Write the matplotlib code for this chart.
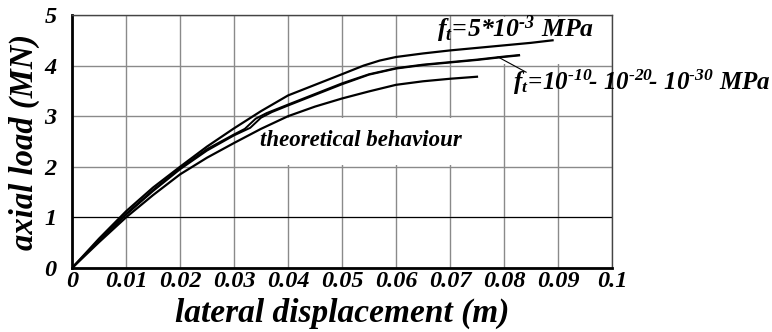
import matplotlib.pyplot as plt
from matplotlib.patches import Rectangle

plt.rcParams['font.family'] = 'Liberation Serif'
plt.rcParams['font.weight'] = 'bold'
plt.rcParams['font.style'] = 'italic'
plt.rcParams['axes.labelweight'] = 'bold'
plt.rcParams['mathtext.fontset'] = 'custom'
plt.rcParams['mathtext.rm'] = 'Liberation Serif:bold:italic'
plt.rcParams['mathtext.it'] = 'Liberation Serif:bold:italic'
plt.rcParams['mathtext.bf'] = 'Liberation Serif:bold:italic'
plt.rcParams['mathtext.default'] = 'it'

# theoretical behaviour
theo_x = [0, 0.005, 0.01, 0.015, 0.02, 0.025, 0.03, 0.035, 0.04, 0.045, 0.05, 0.055, 0.06, 0.065, 0.07, 0.075]
theo_y = [0, 0.51, 1.00, 1.44, 1.85, 2.18, 2.47, 2.75, 3.00, 3.19, 3.35, 3.49, 3.62, 3.69, 3.74, 3.78]

# f_t = 5e-3 MPa
ft5_x = [0, 0.005, 0.01, 0.015, 0.02, 0.025, 0.03, 0.035, 0.04, 0.045, 0.05, 0.054, 0.057, 0.06,
         0.065, 0.07, 0.075, 0.08, 0.085, 0.089]
ft5_y = [0, 0.58, 1.12, 1.59, 2.00, 2.40, 2.76, 3.10, 3.41, 3.62, 3.83, 4.00, 4.10, 4.17,
         4.24, 4.30, 4.35, 4.40, 4.45, 4.50]

# f_t = 1e-10 / 1e-20 / 1e-30 MPa (bundle of near identical curves)
fta_x = [0, 0.005, 0.01, 0.015, 0.02, 0.025, 0.03, 0.032, 0.034, 0.036, 0.04, 0.045, 0.05, 0.055,
         0.06, 0.065, 0.07, 0.075, 0.08, 0.0828]
fta_y = [0, 0.55, 1.07, 1.54, 1.97, 2.35, 2.64, 2.75, 2.95, 3.06, 3.23, 3.44, 3.65, 3.83,
         3.95, 4.02, 4.07, 4.12, 4.18, 4.21]
ftb_x = [0, 0.005, 0.01, 0.015, 0.02, 0.025, 0.03, 0.033, 0.035, 0.037, 0.04, 0.045, 0.05, 0.055,
         0.06, 0.065, 0.07, 0.075, 0.08, 0.0828]
ftb_y = [0, 0.54, 1.05, 1.52, 1.95, 2.32, 2.62, 2.77, 2.97, 3.08, 3.21, 3.42, 3.63, 3.82,
         3.94, 4.01, 4.06, 4.11, 4.17, 4.20]

x_ticks = [0, 0.01, 0.02, 0.03, 0.04, 0.05, 0.06, 0.07, 0.08, 0.09, 0.1]
x_tick_labels = ['0', '0.01', '0.02', '0.03', '0.04', '0.05', '0.06', '0.07', '0.08', '0.09', '0.1']
y_ticks = [0, 1, 2, 3, 4, 5]

fig = plt.figure(figsize=(7.72, 3.32), dpi=100)
ax = fig.add_axes([0.0933, 0.1928, 0.6994, 0.762])

ax.set_xlim(0, 0.1)
ax.set_ylim(0, 5)
ax.set_xticks(x_ticks)
ax.set_xticklabels(x_tick_labels)
ax.set_yticks(y_ticks)
ax.tick_params(length=0, labelsize=17.5)
ax.tick_params(axis='x', pad=2)
ax.tick_params(axis='y', pad=11)
ax.grid(True, color='#8a8a8a', linewidth=1.0, zorder=0)
ax.set_axisbelow(True)
ax.axhline(1, color='black', linewidth=0.8, zorder=1)

# white boxes behind the labels
ax.add_patch(Rectangle((0.0725, 4.03), 0.0272, 0.94, facecolor='white', edgecolor='none', zorder=1.5))
ax.add_patch(Rectangle((0.031, 2.03), 0.0478, 0.94, facecolor='white', edgecolor='none', zorder=1.5))

for s in ['left', 'bottom']:
    ax.spines[s].set_linewidth(2.0)
for s in ['top', 'right']:
    ax.spines[s].set_linewidth(1.0)
    ax.spines[s].set_color('#444444')

ax.plot(theo_x, theo_y, color='black', linewidth=1.6, zorder=3)
ax.plot(ft5_x, ft5_y, color='black', linewidth=1.6, zorder=3)
ax.plot(fta_x, fta_y, color='black', linewidth=1.4, zorder=3)
ax.plot(ftb_x, ftb_y, color='black', linewidth=1.4, zorder=3)

ax.text(0.0535, 2.52, 'theoretical behaviour', fontsize=16.5, ha='center', va='center', zorder=4)
ax.text(0.0821, 4.72, r'$f_t\!=\!5{*}10^{\text{-}3}\ MPa$', fontsize=18.5, ha='center', va='center', zorder=4)
ax.text(0.0817, 3.66, r'$f_t\!=\!10^{\text{-}10}\!\text{-}\ 10^{\text{-}20}\!\text{-}\ 10^{\text{-}30}\ MPa$',
        fontsize=18, ha='left', va='center', zorder=4, clip_on=False)
ax.plot([0.0789, 0.0841], [4.17, 3.87], color='black', linewidth=0.8, zorder=3)

ax.set_xlabel('lateral displacement (m)', fontsize=24, labelpad=4)
ax.set_ylabel('axial load (MN)', fontsize=23.5, labelpad=3)

fig.savefig('out.png', dpi=100)
